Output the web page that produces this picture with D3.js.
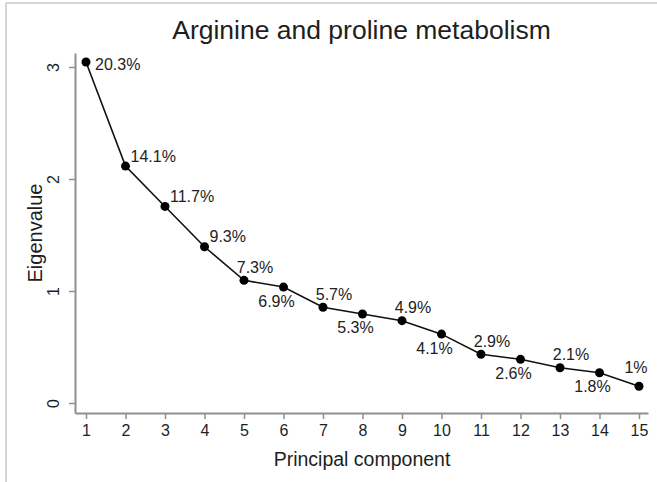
<!DOCTYPE html>
<html>
<head>
<meta charset="utf-8">
<script src="https://cdn.jsdelivr.net/npm/d3@7"></script>
<style>
  html, body { margin: 0; padding: 0; background: #fff; }
  svg { display: block; font-family: "Liberation Sans", Arial, sans-serif; }
</style>
</head>
<body>
<svg id="chart" width="657" height="482"></svg>
<script>
// Scree plot data: component number, eigenvalue, share of variance
const components = [1, 2, 3, 4, 5, 6, 7, 8, 9, 10, 11, 12, 13, 14, 15];
const eigenvalues = [3.045, 2.115, 1.755, 1.395, 1.095, 1.035, 0.855, 0.795, 0.735, 0.615, 0.435, 0.39, 0.315, 0.27, 0.15];
const percentLabels = ["20.3%", "14.1%", "11.7%", "9.3%", "7.3%", "6.9%", "5.7%", "5.3%", "4.9%", "4.1%", "2.9%", "2.6%", "2.1%", "1.8%", "1%"];
const xTicks = [1, 2, 3, 4, 5, 6, 7, 8, 9, 10, 11, 12, 13, 14, 15];
const yTicks = [0, 1, 2, 3];
// Clock-style placement of each marker label
const labelPlacement = ["e", "ne", "ne", "ne", "n", "s", "n", "s", "n", "s", "n", "s", "n", "s", "nw"];

const svg = d3.select("#chart");

// Outer frame
svg.append("line").attr("x1", 6).attr("x2", 657).attr("y1", 3).attr("y2", 3)
  .attr("stroke", "#c8c8c8").attr("stroke-width", 1.5);
svg.append("line").attr("x1", 6).attr("x2", 6).attr("y1", 3).attr("y2", 482)
  .attr("stroke", "#c8c8c8").attr("stroke-width", 1.5);

// Scales: axis lines run slightly beyond the data range
const x = d3.scaleLinear().domain([0.7215, 15.228]).range([75, 648]);
const y = d3.scaleLinear().domain([-10 / 112, 350 / 112]).range([413, 53]);

const axisColor = "#8f8f8f";
const textColor = "#1e1e1e";

// X axis
const xAxis = svg.append("g").attr("transform", "translate(0,413)")
  .call(d3.axisBottom(x).tickValues(xTicks).tickSizeInner(6).tickSizeOuter(0).tickPadding(6).tickFormat(d3.format("d")));
xAxis.select(".domain").attr("stroke", axisColor).attr("stroke-width", 2);
xAxis.selectAll(".tick line").attr("stroke", axisColor).attr("stroke-width", 1.5);
xAxis.selectAll(".tick text").attr("fill", textColor).attr("font-size", 16)
  .attr("font-family", "Liberation Sans, Arial, sans-serif");

// Y axis (vertical tick labels)
const yAxis = svg.append("g").attr("transform", "translate(75,0)")
  .call(d3.axisLeft(y).tickValues(yTicks).tickSizeInner(6).tickSizeOuter(0).tickPadding(6).tickFormat(d3.format("d")));
yAxis.select(".domain").attr("stroke", axisColor).attr("stroke-width", 2);
yAxis.selectAll(".tick line").attr("stroke", axisColor).attr("stroke-width", 1.5);
yAxis.selectAll(".tick text")
  .attr("fill", textColor).attr("font-size", 16)
  .attr("font-family", "Liberation Sans, Arial, sans-serif")
  .attr("x", null).attr("dy", null)
  .attr("text-anchor", "middle")
  .attr("transform", "translate(-22,0) rotate(-90)")
  .attr("dominant-baseline", "central");

// Title and axis titles
svg.append("text").attr("x", 361.5).attr("y", 39).attr("text-anchor", "middle")
  .attr("font-size", 26.5).attr("fill", textColor)
  .text("Arginine and proline metabolism");
svg.append("text").attr("x", 362).attr("y", 466).attr("text-anchor", "middle")
  .attr("font-size", 19.5).attr("fill", textColor)
  .text("Principal component");
svg.append("text").attr("transform", "translate(35,233) rotate(-90)")
  .attr("text-anchor", "middle").attr("dominant-baseline", "central")
  .attr("font-size", 20).attr("fill", textColor)
  .text("Eigenvalue");

// Line and markers
const pts = components.map((c, i) => ({ c, v: eigenvalues[i], label: percentLabels[i], pos: labelPlacement[i] }));

svg.append("path").datum(pts)
  .attr("fill", "none").attr("stroke", "#111").attr("stroke-width", 1.6)
  .attr("d", d3.line().x(d => x(d.c)).y(d => y(d.v)));

svg.selectAll("circle.pt").data(pts).join("circle")
  .attr("class", "pt")
  .attr("cx", d => x(d.c)).attr("cy", d => y(d.v)).attr("r", 4.5)
  .attr("fill", "#000");

// Marker labels
const offsets = {
  e:  { dx: 9,  dy: 3,   anchor: "start" },
  ne: { dx: 5,  dy: -10, anchor: "start" },
  n:  { dx: 11, dy: -13, anchor: "middle" },
  nw: { dx: -3, dy: -19, anchor: "middle" },
  s:  { dx: -7, dy: 14,  anchor: "middle" }
};
svg.selectAll("text.lbl").data(pts).join("text")
  .attr("class", "lbl")
  .attr("x", d => x(d.c) + offsets[d.pos].dx)
  .attr("y", d => y(d.v) + offsets[d.pos].dy)
  .attr("text-anchor", d => offsets[d.pos].anchor)
  .attr("dominant-baseline", "central")
  .attr("font-size", 16).attr("fill", "#222")
  .text(d => d.label);
</script>
</body>
</html>
